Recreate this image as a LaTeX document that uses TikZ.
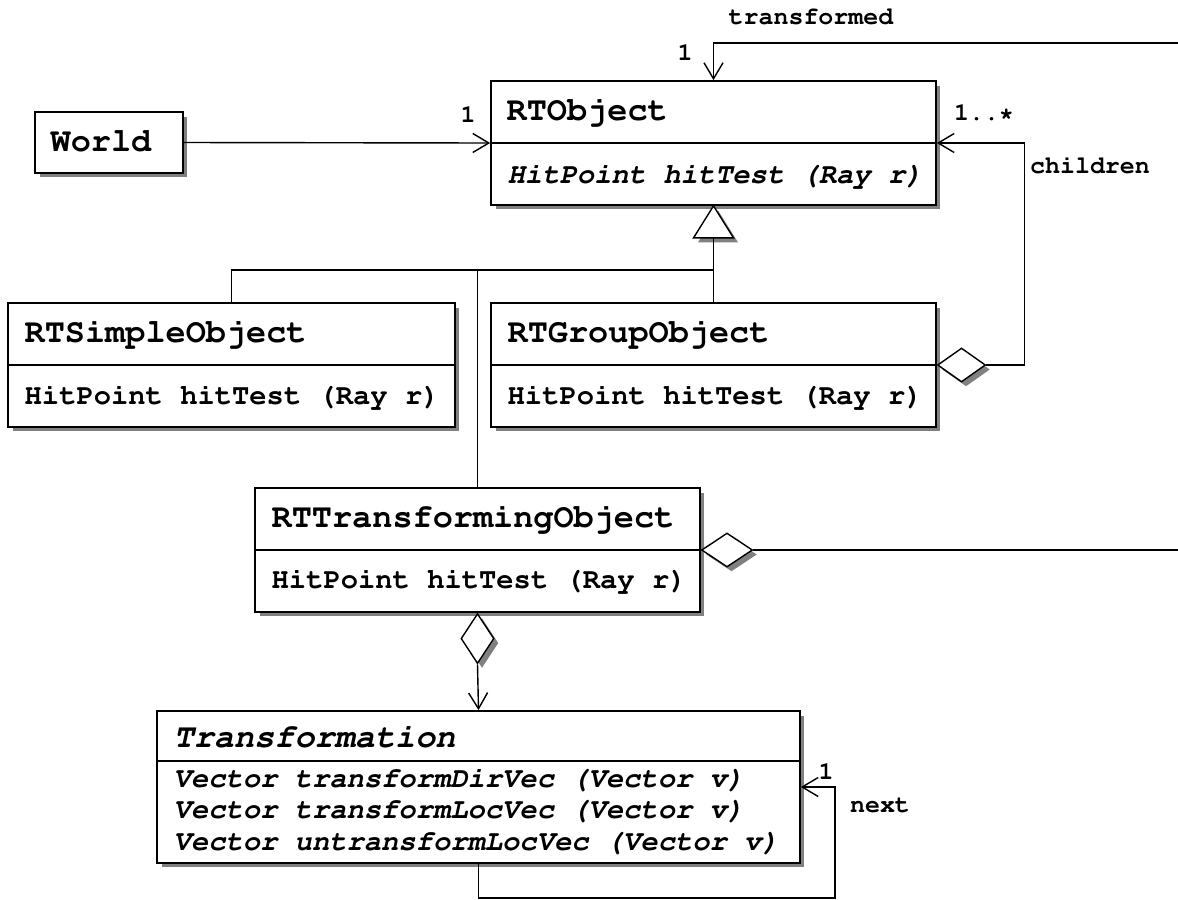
\documentclass[tikz,border=0pt]{standalone}
\usepackage[T1]{fontenc}
\usetikzlibrary{arrows.meta,shapes.geometric,shadows,positioning}

\newcommand{\umlfont}{\fontfamily{pcr}\fontseries{b}\selectfont}

\tikzset{
	umlshadow/.style = {drop shadow={shadow xshift=0.09cm, shadow yshift=-0.09cm, fill=black!50, opacity=1}},
	classbox/.style = {draw, line width=1pt, fill=white, inner sep=0pt, umlshadow},
	aggr/.style = {diamond, draw, line width=0.8pt, fill=white, inner sep=0pt, umlshadow},
	title/.style = {font=\umlfont\fontsize{19.1}{22}\selectfont, anchor=west, inner sep=0pt, text height=14pt, text depth=4.5pt},
	method/.style = {font=\umlfont\fontsize{16.4}{19}\selectfont, anchor=west, inner sep=0pt, text height=12pt, text depth=4pt},
	role/.style = {font=\umlfont\fontsize{14.2}{17}\selectfont, inner sep=0pt}
}

\begin{document}
\begin{tikzpicture}[
			x = 0.02cm,
			y = -0.02cm,
			line width = 0.8pt,
			>={Straight Barb[length=0.32cm,width=0.38cm]}
			]

			\useasboundingbox (0,0) rectangle (1178,900);

			% classes
			\node[classbox, minimum width=2.96cm, minimum height=1.22cm] (world) at (109,142.5) {};
			\node[title] (worldT) at (50,143) {World};

			\node[classbox, minimum width=8.9cm, minimum height=2.48cm] (obj) at (713.5,143) {};
			\draw (obj.west) -- (obj.east);
			\node[title] (objT) at (506,112.5) {RTObject};
			\node[method] (objM) at (507,176) {\slshape HitPoint hitTest (Ray r)};

			\node[classbox, minimum width=8.94cm, minimum height=2.48cm] (simple) at (231.5,365) {};
			\draw (simple.west) -- (simple.east);
			\node[title] (simpleT) at (24,334) {RTSimpleObject};
			\node[method] (simpleM) at (24,397) {HitPoint hitTest (Ray r)};

			\node[classbox, minimum width=8.9cm, minimum height=2.48cm] (grp) at (713.5,365) {};
			\draw (grp.west) -- (grp.east);
			\node[title] (grpT) at (507,334) {RTGroupObject};
			\node[method] (grpM) at (507,397) {HitPoint hitTest (Ray r)};

			\node[classbox, minimum width=8.9cm, minimum height=2.48cm] (trans) at (477.5,550) {};
			\draw (trans.west) -- (trans.east);
			\node[title] (transT) at (271,519) {RTTransformingObject};
			\node[method] (transM) at (271,581) {HitPoint hitTest (Ray r)};

			\node[classbox, minimum width=12.86cm, minimum height=3.04cm] (tf) at (478.5,787) {};
			\draw (tf.west |- 0,761) -- (tf.east |- 0,761);
			\node[title] (tfT) at (173,739) {\slshape Transformation};
			\node[method] (tfA) at (173,780) {\slshape Vector transformDirVec (Vector v)};
			\node[method] (tfB) at (173,811) {\slshape Vector transformLocVec (Vector v)};
			\node[method] (tfC) at (173,843) {\slshape Vector untransformLocVec (Vector v)};

			% inheritance
			\draw[fill=white, umlshadow] (obj.south) -- ++(-20,32) -- ++(40,0) -- cycle;
			\coordinate (tri) at (713.5,237);
			\coordinate (join) at (713.5,270);
			\draw (tri) -- (grp.north);
			\draw (simple.north) |- (join);
			\draw (trans.north) -- (trans.north |- join);

			% associations
			\draw[->] (world.east) -- (obj.west);
			\node[role] (worldN) at (468,115) {1};

			\coordinate (edgeT) at (1178,43);
			\draw[->] (edgeT) -| (obj.north);
			\node[role] (transfN) at (685,53) {1};
			\node[role] (transfL) at (811,17) {transformed};

			\node[aggr, anchor=west, minimum width=0.96cm, minimum height=0.68cm] (grpdia) at (grp.east) {};
			\draw[->] (grpdia.east) -- ++(38,0) |- (obj.east);
			\node[role] (childN) at (984,113) {1..*};
			\node[role] (childL) at (1090,165) {children};

			\node[aggr, anchor=west, minimum width=1.02cm, minimum height=0.68cm] (trdia) at (trans.east) {};
			\coordinate (edgeR) at (1178,550);
			\draw (trdia.east) -- (edgeR);

			\node[aggr, anchor=north, minimum width=0.66cm, minimum height=1cm] (trdia2) at (trans.south) {};
			\draw[->] (trdia2.south) -- (tf.north);

			\coordinate (loop) at (835,898);
			\draw[->] (tf.south) |- (loop) |- (tf.east);
			\node[role] (nextN) at (826,772) {1};
			\node[role] (nextL) at (880,806) {next};

		\end{tikzpicture}
\end{document}
